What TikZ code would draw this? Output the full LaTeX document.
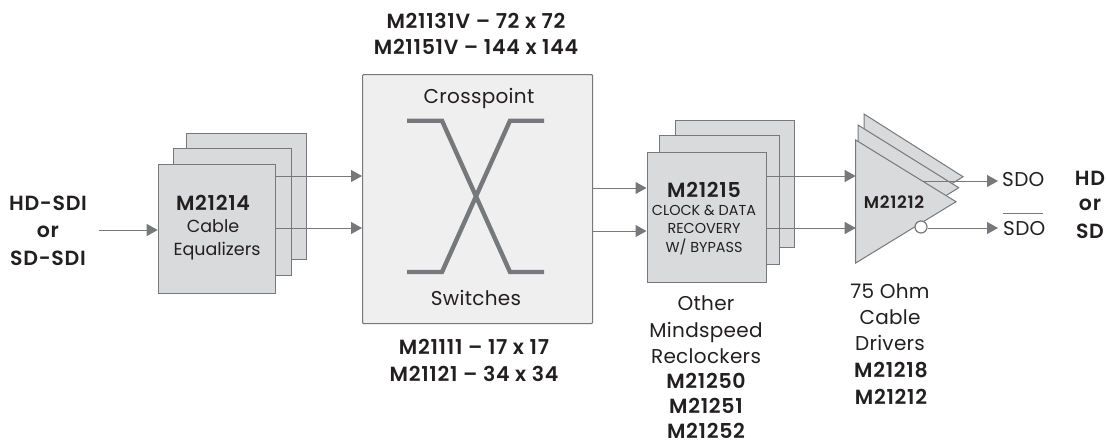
\documentclass[tikz,border=0pt]{standalone}
\usepackage{fontspec}
\setmainfont{Poppins}[BoldFont={Poppins SemiBold}]
\usetikzlibrary{arrows.meta}
\definecolor{linegray}{HTML}{77787B}
\definecolor{boxgray}{HTML}{D9DADB}
\definecolor{xpgray}{HTML}{EFEFEF}
\definecolor{txt}{HTML}{231F20}
\newcommand{\fs}[1]{\fontsize{#1}{#1}\selectfont}
\tikzset{
  x=1pt,y=-1pt,
  stackbox/.style={draw=linegray,fill=boxgray,line width=1.1pt,minimum width=#1,inner sep=0pt,anchor=north west},
  wire/.style={draw=linegray,line width=1pt,-{Triangle[length=11pt,width=12pt]}},
  plainwire/.style={draw=linegray,line width=1pt},
  tri/.style={draw=linegray,fill=boxgray,line width=1pt,line join=miter},
  xbar/.style={draw=linegray,line width=4.4pt,line join=miter},
  lab/.style={text=txt,font=\fs{20}\addfontfeature{LetterSpace=1.5},inner sep=0pt,align=center},
  blab/.style={text=txt,font=\fs{20.5}\bfseries\addfontfeature{LetterSpace=3.5},inner sep=0pt,align=center},
  smalllab/.style={text=txt,font=\fs{17.5},inner sep=0pt,align=center},
  caplab/.style={text=txt,font=\fs{14.4},inner sep=0pt,align=center},
}
\begin{document}
\begin{tikzpicture}
\useasboundingbox (0,0) rectangle (1107,445);
% cable equalizer stack
\node[stackbox=120pt,minimum height=126.5pt] (eqc) at (186,132.5) {};
\node[stackbox=118pt,minimum height=127pt] (eqb) at (173,148) {};
\node[stackbox=117.5pt,minimum height=129pt] (eqa) at (157.7,164) {};
% crosspoint
\node[stackbox=230pt,minimum height=249pt,fill=xpgray,rounded corners=1pt] (xp) at (362,74) {};
\coordinate (xtl) at (407,120.7);
\coordinate (xtr) at (544,120.7);
\coordinate (xbl) at (407,272);
\coordinate (xbr) at (544,272);
\draw[xbar] (xtl) -- ++(35,0) -- ([xshift=-34pt]xbr) -- (xbr);
\draw[xbar] (xbl) -- ++(35,0) -- ([xshift=-34pt]xtr) -- (xtr);
% reclocker stack
\node[stackbox=119pt,minimum height=127pt] (rcc) at (675,120) {};
\node[stackbox=120pt,minimum height=129pt] (rcb) at (659,135) {};
\node[stackbox=119pt,minimum height=129.7pt] (rca) at (646.5,152) {};
% driver triangles
\coordinate (t3a) at (864,114);
\coordinate (t3b) at (963,176.7);
\coordinate (t3c) at (864,239);
\coordinate (t2a) at (858,125);
\coordinate (t2b) at (958.7,187.7);
\coordinate (t2c) at (858,250);
\coordinate (t1a) at (855.7,140);
\coordinate (t1b) at (956,201.7);
\coordinate (t1c) at (855.7,263);
\draw[tri] (t3a) -- (t3b) -- (t3c) -- cycle;
\draw[tri] (t2a) -- (t2b) -- (t2c) -- cycle;
\draw[tri] (t1a) -- (t1b) -- (t1c) -- cycle;
\node[circle,draw=linegray,fill=white,line width=1.2pt,minimum size=12pt,inner sep=0pt] (inv) at (921,227) {};
% texts
\node[blab] (t1) at (476,20.5) {M21131V – 72 x 72};
\node[blab] (t2) at (476,47) {M21151V – 144 x 144};
\node[blab] (t3) at (474,347) {M21111 – 17 x 17};
\node[blab] (t4) at (474,373.5) {M21121 – 34 x 34};
\node[blab] (hdsdi) at (48,203) {HD-SDI};
\node[blab] (or1) at (48,232) {or};
\node[blab] (sdsdi) at (48,258) {SD-SDI};
\node[blab] (eqt) at (213,203) {M21214};
\node[smalllab] (eqt2) at (213,226) {Cable};
\node[smalllab] (eqt3) at (217,251) {Equalizers};
\node[lab] (cp) at (479,98) {Crosspoint};
\node[lab] (sw) at (476,298) {Switches};
\node[blab] (rct) at (704,190) {M21215};
\node[caplab] (rct2) at (704,210) {CLOCK \& DATA};
\node[caplab] (rct3) at (704,228.7) {RECOVERY};
\node[caplab] (rct4) at (704,246.7) {W/ BYPASS};
\node[text=txt,font=\fs{17}\bfseries\addfontfeature{LetterSpace=4},inner sep=0pt] (drv) at (894,201.7) {M21212};
\node[lab,anchor=west] (sdo1) at (1002,180) {SDO};
\node[lab,anchor=west] (sdo2) at (1003,229) {SDO};
\coordinate (ovl) at (1003,213.7);
\draw[plainwire] (ovl) -- ++(40,0);
\node[blab] (hd) at (1090,178.3) {HD};
\node[blab] (or2) at (1090,205) {or};
\node[blab] (sd) at (1090,231.7) {SD};
\node[lab] (o1) at (706,303) {Other};
\node[lab] (o2) at (706,332) {Mindspeed};
\node[lab] (o3) at (706,356) {Reclockers};
\node[blab] (o4) at (706,381) {M21250};
\node[blab] (o5) at (706,406) {M21251};
\node[blab] (o6) at (706,430.5) {M21252};
\node[lab] (d1) at (890,291) {75 Ohm};
\node[lab] (d2) at (890,317) {Cable};
\node[lab] (d3) at (890,343) {Drivers};
\node[blab] (d4) at (891,370) {M21218};
\node[blab] (d5) at (891,397) {M21212};
% connectors
\coordinate (in) at (99,230);
\coordinate (fs1) at (923,181);
\draw[wire] (in) -- (eqa.west |- in);
\draw[wire] (eqa.east |- 0,176) -- (xp.west |- 0,176);
\draw[wire] (eqa.east |- 0,228) -- (xp.west |- 0,228);
\draw[wire] (xp.east |- 0,188) -- (rca.west |- 0,188);
\draw[wire] (xp.east |- 0,231) -- (rca.west |- 0,231);
\draw[wire] (rca.east |- 0,176) -- (t1a |- 0,176);
\draw[wire] (rca.east |- 0,228) -- (t1a |- 0,228);
\draw[wire] (fs1) -- ([xshift=-4pt]sdo1.west |- fs1);
\draw[wire] (inv.east |- 0,228) -- ([xshift=-5pt]sdo2.west |- 0,228);
\end{tikzpicture}
\end{document}
